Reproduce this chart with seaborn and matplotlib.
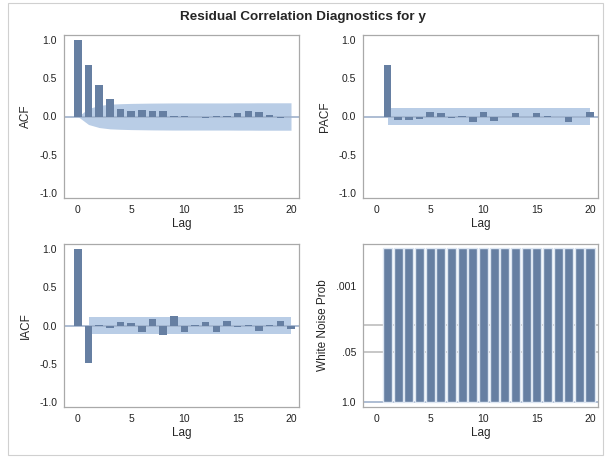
import numpy as np
import pandas as pd
import seaborn as sns
import matplotlib.pyplot as plt
from matplotlib.patches import Rectangle

# values
lags = list(range(0, 21))
acf = [1.0, 0.67, 0.42, 0.23, 0.10, 0.07, 0.08, 0.07, 0.07, 0.005, 0.005,
       -0.01, -0.02, 0.003, 0.008, 0.05, 0.07, 0.065, 0.015, -0.02, 0.0]
acf_band = [0.0, 0.105, 0.145, 0.162, 0.168, 0.172, 0.174, 0.176, 0.177, 0.178, 0.178,
            0.178, 0.178, 0.178, 0.178, 0.179, 0.179, 0.180, 0.180, 0.180, 0.180]

pacf_lags = list(range(1, 21))
pacf = [0.67, -0.05, -0.04, -0.035, 0.06, 0.04, -0.015, 0.005, -0.07, 0.06,
        -0.06, 0.0, 0.045, -0.01, 0.045, 0.005, 0.0, -0.07, 0.0, 0.06]
pacf_band = [0.115] * 20

iacf = [1.0, -0.49, 0.01, -0.03, 0.05, 0.035, -0.09, 0.08, -0.12, 0.12, -0.08,
        0.01, 0.045, -0.08, 0.06, -0.015, 0.01, -0.07, 0.01, 0.06, -0.04]
iacf_band = [0.112] * 20

wn_lags = list(range(1, 21))
wn_prob = [0.0001] * 20
wn_ticks = [1.0, 0.05, 0.001]
wn_tick_labels = ["1.0", ".05", ".001"]
wn_refs = [0.05, 0.01]

bar_color = "#667fa2"
band_color = "#b9cde6"
zero_color = "#9fb2cc"
spine_color = "#a9a9a9"

sns.set_style("white")
plt.rcParams['font.family'] = ['Liberation Sans', 'DejaVu Sans']

fig = plt.figure(figsize=(6.05, 4.57), dpi=100)
fig.patches.append(Rectangle((8 / 605, 2 / 457), 595 / 605, 452 / 457,
                             transform=fig.transFigure, fill=False,
                             edgecolor="#d0d0d0", linewidth=0.8))
fig.text(0.5, 0.962, "Residual Correlation Diagnostics for y",
         ha='center', va='center', fontsize=9.7, fontweight='bold')

w, h = 235 / 605, 163 / 457
ax_acf = fig.add_axes([64 / 605, 1 - 198 / 457, w, h])
ax_pacf = fig.add_axes([363 / 605, 1 - 198 / 457, w, h])
ax_iacf = fig.add_axes([64 / 605, 1 - 407 / 457, w, h])
ax_wn = fig.add_axes([363 / 605, 1 - 407 / 457, w, h])


def style_axis(ax, ylabel):
    for s in ax.spines.values():
        s.set_color(spine_color)
        s.set_linewidth(0.9)
    ax.tick_params(axis='both', direction='out', length=3, width=0.8,
                   color=spine_color, labelsize=7.5, pad=2, labelcolor="#222222")
    ax.set_xlim(-1.3, 20.75)
    ax.set_xticks([0, 5, 10, 15, 20])
    ax.set_xlabel("Lag", fontsize=8.5, labelpad=2)
    ax.set_ylabel(ylabel, fontsize=8.5, labelpad=5)


def corr_panel(ax, x, y, band_x, band, ylabel):
    band = np.array(band)
    ax.fill_between(band_x, -band, band, color=band_color, linewidth=0, zorder=1)
    ax.axhline(0, color=zero_color, linewidth=1.2, zorder=2)
    df = pd.DataFrame({"lag": x, "value": y})
    sns.barplot(data=df, x="lag", y="value", native_scale=True, width=0.7,
                color=bar_color, saturation=1, edgecolor=bar_color,
                linewidth=0, ax=ax, zorder=3)
    ax.set_ylim(-1.07, 1.07)
    ax.set_yticks([-1.0, -0.5, 0.0, 0.5, 1.0])
    ax.set_yticklabels(["-1.0", "-0.5", "0.0", "0.5", "1.0"])
    style_axis(ax, ylabel)


corr_panel(ax_acf, lags, acf, lags, acf_band, "ACF")
corr_panel(ax_pacf, pacf_lags, pacf, pacf_lags, pacf_band, "PACF")
corr_panel(ax_iacf, lags, iacf, lags[1:], iacf_band, "IACF")

# white noise panel on a -log10 probability scale
wn_df = pd.DataFrame({"lag": wn_lags, "score": -np.log10(wn_prob)})
for r in wn_refs:
    ax_wn.axhline(-np.log10(r), color="#bdbdbd", linewidth=1.2, zorder=1)
ax_wn.axhline(0, color=zero_color, linewidth=1.2, zorder=2)
sns.barplot(data=wn_df, x="lag", y="score", native_scale=True, width=0.85,
            color=bar_color, saturation=1, edgecolor="#dde6f2", linewidth=1.0,
            ax=ax_wn, zorder=3)
ax_wn.set_ylim(-0.12, 4.1)
ax_wn.set_yticks(-np.log10(wn_ticks))
ax_wn.set_yticklabels(wn_tick_labels)
style_axis(ax_wn, "White Noise Prob")

fig.savefig("out.png", dpi=100)
